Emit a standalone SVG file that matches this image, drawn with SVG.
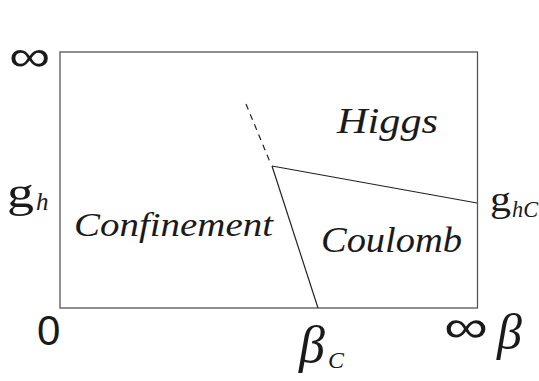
<svg xmlns="http://www.w3.org/2000/svg" width="539" height="381" viewBox="0 0 539 381">
<style>
.frame{fill:none;stroke:#555;stroke-width:1.3}
.ln{fill:none;stroke:#222;stroke-width:1.2}
.dash{stroke-dasharray:6,5}
.it{font-family:"Liberation Serif",serif;font-style:italic;fill:#1a1a1a}
.rm{font-family:"Liberation Serif",serif;fill:#1a1a1a}
.sans{font-family:"Liberation Sans",sans-serif;fill:#1a1a1a}
</style>
<rect width="539" height="381" fill="#fff"/>
<g id="frame"><rect class="frame" x="60" y="52" width="417.5" height="256"/></g>
<g id="connectors">
<line class="ln dash" x1="246" y1="104" x2="270" y2="162"/>
<line class="ln" x1="272" y1="166" x2="318" y2="308"/>
<line class="ln" x1="272" y1="166" x2="477" y2="203"/>
</g>
<g id="axis-labels">
<text class="sans" x="9" y="71" font-size="44" textLength="41" lengthAdjust="spacingAndGlyphs">∞</text>
<text class="sans" x="37" y="345" font-size="42">0</text>
<text class="sans" x="444" y="342" font-size="45" textLength="44" lengthAdjust="spacingAndGlyphs">∞</text>
<text class="it" x="497" y="349" font-size="50">β</text>
<text class="it" x="299" y="362" font-size="52">β</text>
<text class="it" x="328" y="368" font-size="24">C</text>
<text class="rm" x="7" y="207" font-size="44" textLength="27" lengthAdjust="spacingAndGlyphs">g</text>
<text class="it" x="36" y="210" font-size="25">h</text>
<text class="rm" x="490" y="211" font-size="35" textLength="21" lengthAdjust="spacingAndGlyphs">g</text>
<text class="it" x="512" y="217" font-size="23" textLength="26" lengthAdjust="spacingAndGlyphs">hC</text>
</g>
<g id="higgs"><text class="it" x="337" y="133" font-size="35" textLength="101" lengthAdjust="spacingAndGlyphs">Higgs</text></g>
<g id="confinement"><text class="it" x="74" y="236" font-size="33" textLength="199" lengthAdjust="spacingAndGlyphs">Confinement</text></g>
<g id="coulomb"><text class="it" x="321" y="252" font-size="35" textLength="141" lengthAdjust="spacingAndGlyphs">Coulomb</text></g>
</svg>
